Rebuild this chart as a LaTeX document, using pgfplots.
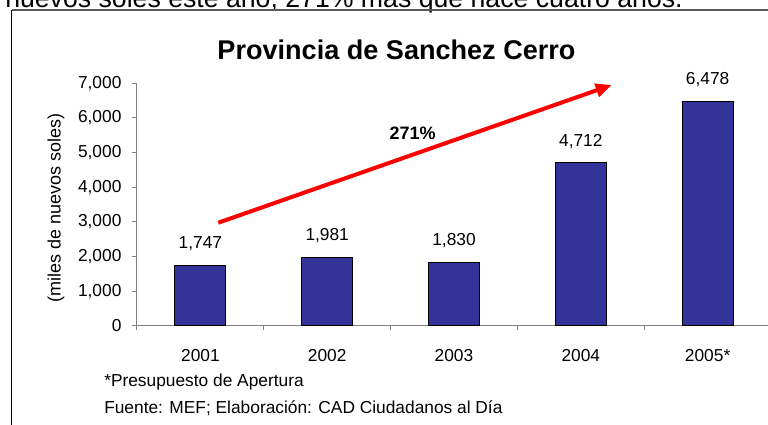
\documentclass[border=0pt]{standalone}
\usepackage{fontspec}
\setmainfont{Liberation Sans}
\usepackage{pgfplots}
\pgfplotsset{compat=1.18}
\usetikzlibrary{arrows.meta}
\definecolor{barblue}{HTML}{333399}
\definecolor{arrred}{HTML}{FF0000}
\begin{document}
\begin{tikzpicture}
\useasboundingbox (0,0) rectangle (576bp,-318.75bp);
\clip (0,0) rectangle (576bp,-318.75bp);
\begin{scope}[x=0.75bp,y=-0.75bp]
\node[anchor=base west, inner sep=0pt, font=\fontsize{20bp}{24bp}\selectfont] at (5,7.3) {nuevos soles este año, 271\% más que hace cuatro años.};
\draw[black!65, line width=0.9bp] (11.7,10) -- (800,10);
\draw[black, line width=0.9bp] (11.7,10) -- (11.7,440);
\node[anchor=base, inner sep=0pt, font=\fontsize{20.3bp}{24bp}\selectfont\bfseries] at (396.5,59.3) {Provincia de Sanchez Cerro};
\node[anchor=base west, inner sep=0pt, font=\fontsize{13bp}{15bp}\selectfont] at (104,386.7) {*Presupuesto de Apertura};
\node[anchor=base west, inner sep=0pt, font=\fontsize{13bp}{15bp}\selectfont] at (104,413) {Fuente: MEF; Elaboración: CAD Ciudadanos al Día};
\end{scope}
\begin{axis}[
  at={(102.75bp,-244.275bp)}, anchor=south west,
  scale only axis, width=475.5bp, height=181.8bp,
  xmin=-0.5, xmax=4.5, ymin=0, ymax=7000,
  ybar, bar width=38.25bp,
  axis x line*=bottom, axis y line*=left,
  axis line style={-, gray, line width=0.75bp},
  tick align=outside,
  tick style={gray, line width=0.75bp},
  major tick length=3.5bp, minor tick length=3.5bp,
  xtick={0,1,2,3,4},
  xticklabels={2001,2002,2003,2004,2005*},
  major x tick style=transparent,
  minor xtick={-0.5,0.5,1.5,2.5,3.5,4.5},
  ytick={0,1000,2000,3000,4000,5000,6000,7000},
  scaled y ticks=false,
  /pgf/number format/1000 sep={,},
  /pgf/number format/fixed,
  /pgf/number format/assume math mode=true,
  tick label style={font=\fontsize{13bp}{15bp}\selectfont},
  yticklabel style={anchor=east, inner sep=0pt, xshift=-8bp},
  xticklabel style={anchor=base, inner sep=0pt, yshift=-23.7bp},
  ylabel={(miles de nuevos soles)},
  ylabel style={at={(rel axis cs:-0.1278,0.486)}, anchor=center, font=\fontsize{13.5bp}{16bp}\selectfont},
  nodes near coords,
  nodes near coords style={anchor=base, inner sep=0pt, yshift=12.4bp, font=\fontsize{13bp}{15bp}\selectfont, black},
  clip=false,
]
\addplot[fill=barblue, draw=black, line width=0.8bp] coordinates {(0,1747) (1,1981) (2,1830) (3,4712) (4,6478)};
\draw[arrred, line width=3bp, -{Triangle[length=12bp,width=10bp]}] (axis cs:0.141,2974) -- (axis cs:3.244,6951);
\node[font=\fontsize{13.5bp}{16bp}\selectfont\bfseries, inner sep=0pt] at (axis cs:1.673,5556) {271\%};
\end{axis}
\end{tikzpicture}
\end{document}
